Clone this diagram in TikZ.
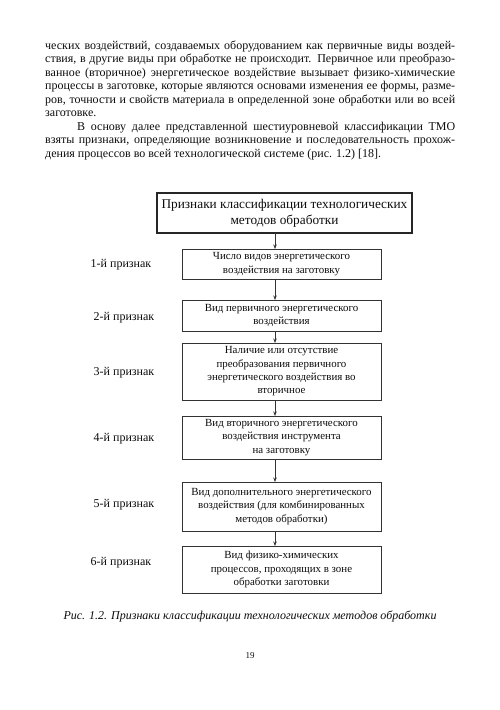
\documentclass[tikz,border=0pt]{standalone}
\usepackage{fontspec}
\setmainfont{Liberation Serif}
\usetikzlibrary{arrows.meta}
\begin{document}
\begin{tikzpicture}[x=1pt,y=-1pt,
  ink/.style={text=black!95},
  bodyline/.style={ink,inner sep=0pt,anchor=base west,font=\fontsize{12}{13.5}\selectfont},
  box/.style={ink,draw=black!80,line width=0.9pt,inner sep=0pt,outer sep=0pt,align=center,
    minimum width=199pt,font=\fontsize{10.9}{13.3}\selectfont},
  topbox/.style={ink,draw=black!85,line width=1.7pt,inner sep=0pt,outer sep=0pt,align=center,
    minimum width=255pt,minimum height=40pt,font=\fontsize{13.3}{16.2}\selectfont},
  lbl/.style={ink,inner sep=0pt,anchor=base,font=\fontsize{12}{14}\selectfont},
  arr/.style={draw=black!80,line width=0.7pt,-{Stealth[length=4.5pt,width=3.5pt]}}
]
\useasboundingbox (0,0) rectangle (500,710);
\fill[white] (0,0) rectangle (500,710);

% body text
\node[bodyline] (l1) at (45,49.4) {\hbox to 410pt{ческих воздействий, создаваемых оборудованием как первичные виды воздей-}};
\node[bodyline] (l2) at (45,62.9) {\hbox to 410pt{ствия, в другие виды при обработке не происходит. Первичное или преобразо-}};
\node[bodyline] (l3) at (45,76.4) {\hbox to 410pt{ванное (вторичное) энергетическое воздействие вызывает физико-химические}};
\node[bodyline] (l4) at (45,89.9) {\hbox to 410pt{процессы в заготовке, которые являются основами изменения ее формы, разме-}};
\node[bodyline] (l5) at (45,103.4) {\hbox to 410pt{ров, точности и свойств материала в определенной зоне обработки или во всей}};
\node[bodyline] (l6) at (45,116.9) {\hbox to 410pt{заготовке.\hfil}};
\node[bodyline] (l7) at (45,130.4) {\hbox to 410pt{\hspace*{32pt}В основу далее представленной шестиуровневой классификации ТМО}};
\node[bodyline] (l8) at (45,143.9) {\hbox to 410pt{взяты признаки, определяющие возникновение и последовательность прохож-}};
\node[bodyline] (l9) at (45,157.4) {\hbox to 410pt{дения процессов во всей технологической системе (рис. 1.2) [18].\hfil}};

% diagram
\node[topbox] (top) at (284.5,213) {Признаки классификации технологических\\методов обработки};
\node[box,minimum height=30pt] (b1) at (281.5,264) {Число видов энергетического\\воздействия на заготовку};
\node[box,minimum height=31pt] (b2) at (281.5,315.5) {Вид первичного энергетического\\воздействия};
\node[box,minimum height=57pt] (b3) at (281.5,371.5) {Наличие или отсутствие\\преобразования первичного\\энергетического воздействия во\\вторичное};
\node[box,minimum height=43pt] (b4) at (281.5,437.5) {Вид вторичного энергетического\\воздействия инструмента\\на заготовку};
\node[box,minimum height=49pt] (b5) at (281.5,506.5) {Вид дополнительного энергетического\\воздействия (для комбинированных\\методов обработки)};
\node[box,minimum height=47pt] (b6) at (281.5,569.5) {Вид физико-химических\\процессов, проходящих в зоне\\обработки заготовки};

\coordinate (ax) at (275,0);
\draw[arr] (top.south -| ax) -- (b1.north -| ax);
\draw[arr] (b1.south -| ax) -- (b2.north -| ax);
\draw[arr] (b2.south -| ax) -- (b3.north -| ax);
\draw[arr] (b3.south -| ax) -- (b4.north -| ax);
\draw[arr] (b4.south -| ax) -- (b5.north -| ax);
\draw[arr] (b5.south -| ax) -- (b6.north -| ax);

\node[lbl] (p1) at (121,267) {1-й признак};
\node[lbl] (p2) at (124,320) {2-й признак};
\node[lbl] (p3) at (124,375) {3-й признак};
\node[lbl] (p4) at (124,441) {4-й признак};
\node[lbl] (p5) at (124,507) {5-й признак};
\node[lbl] (p6) at (121,565) {6-й признак};

% caption and page number
\node[ink,inner sep=0pt,anchor=base,font=\fontsize{12}{14}\selectfont\itshape] (cap) at (250,619) {Рис. 1.2. Признаки классификации технологических методов обработки};
\node[ink,inner sep=0pt,anchor=base,font=\fontsize{9}{11}\selectfont] (pg) at (250,658) {19};
\end{tikzpicture}
\end{document}
